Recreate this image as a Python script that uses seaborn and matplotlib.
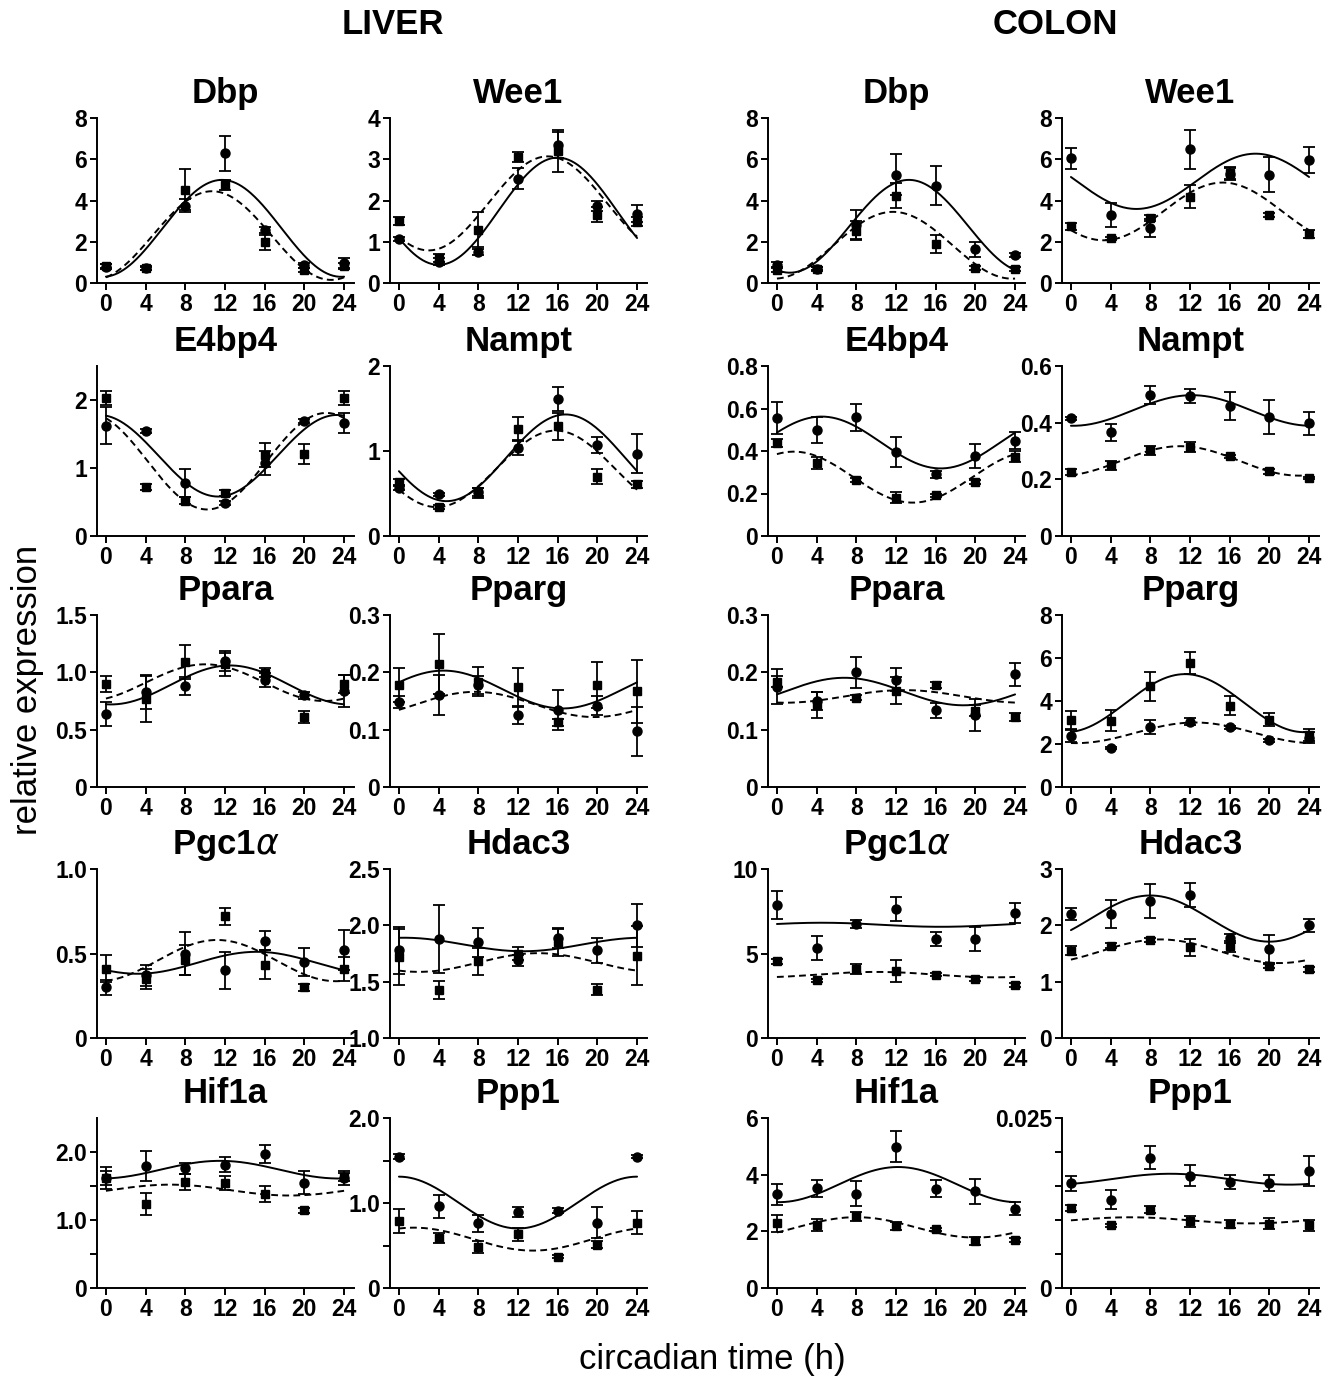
import numpy as np
import seaborn as sns
import matplotlib.pyplot as plt
from matplotlib import font_manager

# sampling times (h)
ct = [0, 4, 8, 12, 16, 20, 24]

# ---- LIVER ----
# Dbp
dbp_l_circ = [0.80, 0.72, 3.75, 6.30, 2.58, 0.85, 0.96]
dbp_l_circ_err = [0.10, 0.08, 0.30, 0.85, 0.15, 0.12, 0.25]
dbp_l_sq = [0.84, 0.74, 4.52, 4.75, 1.97, 0.65, 0.84]
dbp_l_sq_err = [0.10, 0.10, 1.00, 0.25, 0.35, 0.10, 0.15]
dbp_l_fit = [(2.65, 2.35, 11.7), (2.30, 2.15, 10.7)]  # (mesor, amplitude, peak) solid, dashed

# Wee1
wee1_l_circ = [1.06, 0.52, 0.75, 2.53, 3.34, 1.86, 1.68]
wee1_l_circ_err = [0.05, 0.08, 0.08, 0.25, 0.32, 0.12, 0.20]
wee1_l_sq = [1.50, 0.60, 1.29, 3.05, 3.20, 1.66, 1.49]
wee1_l_sq_err = [0.10, 0.10, 0.42, 0.12, 0.50, 0.18, 0.10]
wee1_l_fit = [(1.74, 1.30, 16.0), (1.93, 1.14, 15.0)]

# E4bp4
e4bp4_l_circ = [1.62, 1.55, 0.78, 0.49, 1.07, 1.69, 1.66]
e4bp4_l_circ_err = [0.27, 0.03, 0.20, 0.03, 0.18, 0.03, 0.15]
e4bp4_l_sq = [2.03, 0.72, 0.52, 0.63, 1.19, 1.21, 2.03]
e4bp4_l_sq_err = [0.10, 0.05, 0.05, 0.04, 0.18, 0.15, 0.10]
e4bp4_l_fit = [(1.18, 0.60, 23.3), (1.10, 0.71, 22.2)]

# Nampt
nampt_l_circ = [0.57, 0.49, 0.52, 1.04, 1.61, 1.07, 0.97]
nampt_l_circ_err = [0.03, 0.02, 0.05, 0.09, 0.14, 0.09, 0.23]
nampt_l_sq = [0.63, 0.34, 0.51, 1.26, 1.29, 0.70, 0.61]
nampt_l_sq_err = [0.04, 0.02, 0.06, 0.14, 0.16, 0.09, 0.04]
nampt_l_fit = [(0.92, 0.51, 16.8), (0.79, 0.45, 15.8)]

# Ppara
ppara_l_circ = [0.637, 0.83, 0.88, 1.10, 0.93, 0.80, 0.84]
ppara_l_circ_err = [0.105, 0.15, 0.08, 0.09, 0.06, 0.03, 0.14]
ppara_l_sq = [0.898, 0.77, 1.09, 1.07, 0.995, 0.61, 0.90]
ppara_l_sq_err = [0.07, 0.20, 0.15, 0.10, 0.04, 0.05, 0.08]
ppara_l_fit = [(0.89, 0.17, 12.5), (0.91, 0.16, 10.0)]

# Pparg
pparg_l_circ = [0.148, 0.161, 0.178, 0.126, 0.135, 0.142, 0.097]
pparg_l_circ_err = [0.010, 0.035, 0.015, 0.016, 0.035, 0.017, 0.043]
pparg_l_sq = [0.178, 0.215, 0.184, 0.174, 0.113, 0.178, 0.167]
pparg_l_sq_err = [0.030, 0.052, 0.025, 0.034, 0.006, 0.040, 0.055]
pparg_l_fit = [(0.170, 0.033, 4.5), (0.144, 0.022, 7.7)]

# Pgc1a
pgc1a_l_circ = [0.30, 0.37, 0.50, 0.40, 0.576, 0.45, 0.52]
pgc1a_l_circ_err = [0.045, 0.06, 0.13, 0.11, 0.055, 0.085, 0.12]
pgc1a_l_sq = [0.41, 0.35, 0.46, 0.72, 0.434, 0.30, 0.41]
pgc1a_l_sq_err = [0.08, 0.06, 0.09, 0.05, 0.085, 0.02, 0.07]
pgc1a_l_fit = [(0.445, 0.065, 15.2), (0.458, 0.122, 11.2)]

# Hdac3
hdac3_l_circ = [1.777, 1.88, 1.85, 1.69, 1.89, 1.78, 2.00]
hdac3_l_circ_err = [0.21, 0.30, 0.13, 0.05, 0.09, 0.11, 0.19]
hdac3_l_sq = [1.72, 1.43, 1.68, 1.75, 1.85, 1.43, 1.73]
hdac3_l_sq_err = [0.25, 0.08, 0.12, 0.06, 0.12, 0.05, 0.26]
hdac3_l_fit = [(1.83, 0.06, 0.5), (1.67, 0.083, 14.0)]

# Hif1a
hif1a_l_circ = [1.62, 1.79, 1.76, 1.81, 1.97, 1.55, 1.62]
hif1a_l_circ_err = [0.16, 0.22, 0.08, 0.11, 0.13, 0.17, 0.10]
hif1a_l_sq = [1.62, 1.24, 1.56, 1.54, 1.38, 1.14, 1.63]
hif1a_l_sq_err = [0.10, 0.16, 0.12, 0.10, 0.12, 0.03, 0.06]
hif1a_l_fit = [(1.74, 0.13, 11.5), (1.44, 0.08, 6.5)]

# Ppp1
ppp1_l_circ = [1.545, 0.96, 0.76, 0.89, 0.91, 0.77, 1.545]
ppp1_l_circ_err = [0.03, 0.14, 0.10, 0.06, 0.03, 0.18, 0.02]
ppp1_l_sq = [0.786, 0.59, 0.48, 0.63, 0.37, 0.51, 0.77]
ppp1_l_sq_err = [0.14, 0.06, 0.07, 0.08, 0.02, 0.04, 0.14]
ppp1_l_fit = [(1.005, 0.305, 0.0), (0.575, 0.135, 1.5)]

# ---- COLON ----
dbp_c_circ = [0.88, 0.70, 2.82, 5.25, 4.72, 1.63, 1.35]
dbp_c_circ_err = [0.12, 0.08, 0.70, 1.00, 0.95, 0.35, 0.10]
dbp_c_sq = [0.65, 0.68, 2.54, 4.24, 1.89, 0.73, 0.68]
dbp_c_sq_err = [0.10, 0.10, 0.45, 0.60, 0.45, 0.10, 0.08]
dbp_c_fit = [(2.75, 2.25, 13.3), (1.83, 1.62, 11.7)]

wee1_c_circ = [6.04, 3.31, 2.66, 6.49, 5.30, 5.25, 5.96]
wee1_c_circ_err = [0.50, 0.58, 0.45, 0.95, 0.30, 0.85, 0.62]
wee1_c_sq = [2.74, 2.17, 3.16, 4.18, 5.32, 3.31, 2.38]
wee1_c_sq_err = [0.15, 0.08, 0.15, 0.55, 0.30, 0.10, 0.20]
wee1_c_fit = [(4.93, 1.34, 18.6), (3.47, 1.40, 15.3)]

e4bp4_c_circ = [0.555, 0.50, 0.558, 0.395, 0.29, 0.376, 0.449]
e4bp4_c_circ_err = [0.075, 0.06, 0.065, 0.07, 0.015, 0.055, 0.04]
e4bp4_c_sq = [0.438, 0.343, 0.265, 0.181, 0.192, 0.254, 0.374]
e4bp4_c_sq_err = [0.02, 0.03, 0.01, 0.025, 0.008, 0.008, 0.025]
e4bp4_c_fit = [(0.44, 0.122, 4.5), (0.277, 0.12, 1.7)]

nampt_c_circ = [0.415, 0.366, 0.498, 0.495, 0.46, 0.419, 0.398]
nampt_c_circ_err = [0.005, 0.03, 0.033, 0.025, 0.05, 0.06, 0.04]
nampt_c_sq = [0.226, 0.249, 0.302, 0.313, 0.281, 0.228, 0.205]
nampt_c_sq_err = [0.01, 0.015, 0.015, 0.018, 0.005, 0.01, 0.005]
nampt_c_fit = [(0.443, 0.054, 12.2), (0.265, 0.052, 11.0)]

ppara_c_circ = [0.175, 0.150, 0.200, 0.187, 0.134, 0.125, 0.197]
ppara_c_circ_err = [0.030, 0.015, 0.027, 0.020, 0.013, 0.028, 0.020]
ppara_c_sq = [0.184, 0.143, 0.156, 0.168, 0.178, 0.133, 0.122]
ppara_c_sq_err = [0.010, 0.022, 0.005, 0.023, 0.006, 0.010, 0.007]
ppara_c_fit = [(0.1665, 0.024, 6.8), (0.158, 0.011, 12.8)]

pparg_c_circ = [2.37, 1.83, 2.78, 3.04, 2.78, 2.18, 2.30]
pparg_c_circ_err = [0.30, 0.05, 0.32, 0.15, 0.07, 0.07, 0.25]
pparg_c_sq = [3.12, 3.09, 4.68, 5.77, 3.78, 3.12, 2.42]
pparg_c_sq_err = [0.40, 0.50, 0.67, 0.50, 0.45, 0.30, 0.30]
pparg_c_fit = [(3.90, 1.35, 11.5), (2.52, 0.48, 12.5)]

pgc1a_c_circ = [7.87, 5.31, 6.74, 7.62, 5.86, 5.86, 7.38]
pgc1a_c_circ_err = [0.80, 0.70, 0.25, 0.70, 0.40, 0.70, 0.60]
pgc1a_c_sq = [4.53, 3.42, 4.10, 3.95, 3.75, 3.48, 3.13]
pgc1a_c_sq_err = [0.15, 0.10, 0.30, 0.65, 0.10, 0.10, 0.10]
pgc1a_c_fit = [(6.70, 0.12, 4.5), (3.75, 0.16, 10.0)]

hdac3_c_circ = [2.20, 2.20, 2.43, 2.54, 1.77, 1.58, 2.00]
hdac3_c_circ_err = [0.10, 0.25, 0.30, 0.22, 0.08, 0.25, 0.12]
hdac3_c_sq = [1.55, 1.64, 1.74, 1.61, 1.63, 1.28, 1.22]
hdac3_c_sq_err = [0.08, 0.05, 0.03, 0.15, 0.10, 0.04, 0.04]
hdac3_c_fit = [(2.12, 0.41, 8.0), (1.54, 0.21, 9.0)]

hif1a_c_circ = [3.31, 3.52, 3.33, 4.98, 3.50, 3.41, 2.80]
hif1a_c_circ_err = [0.37, 0.30, 0.45, 0.55, 0.30, 0.45, 0.22]
hif1a_c_sq = [2.28, 2.22, 2.53, 2.18, 2.07, 1.66, 1.69]
hif1a_c_sq_err = [0.30, 0.20, 0.15, 0.15, 0.05, 0.15, 0.07]
hif1a_c_fit = [(3.65, 0.62, 12.2), (2.14, 0.36, 8.0)]

ppp1_c_circ = [0.01542, 0.01299, 0.01916, 0.01654, 0.01556, 0.01542, 0.01727]
ppp1_c_circ_err = [0.0011, 0.0014, 0.0017, 0.0016, 0.0010, 0.0012, 0.0022]
ppp1_c_sq = [0.01177, 0.00924, 0.01153, 0.00983, 0.00944, 0.00944, 0.00924]
ppp1_c_sq_err = [0.0005, 0.0002, 0.0005, 0.0008, 0.0006, 0.0008, 0.0008]
ppp1_c_fit = [(0.0160, 0.0008, 10.0), (0.00995, 0.00045, 6.0)]

# y axes: (limits, ticks, labels)
ax_0_8 = ((0, 8), [0, 2, 4, 6, 8], ['0', '2', '4', '6', '8'])

panels = [
    # row, col, title, y axis, circles, circle err, squares, square err, fits
    (0, 0, 'Dbp', ax_0_8, dbp_l_circ, dbp_l_circ_err, dbp_l_sq, dbp_l_sq_err, dbp_l_fit),
    (0, 1, 'Wee1', ((0, 4), [0, 1, 2, 3, 4], ['0', '1', '2', '3', '4']),
     wee1_l_circ, wee1_l_circ_err, wee1_l_sq, wee1_l_sq_err, wee1_l_fit),
    (0, 2, 'Dbp', ax_0_8, dbp_c_circ, dbp_c_circ_err, dbp_c_sq, dbp_c_sq_err, dbp_c_fit),
    (0, 3, 'Wee1', ax_0_8, wee1_c_circ, wee1_c_circ_err, wee1_c_sq, wee1_c_sq_err, wee1_c_fit),
    (1, 0, 'E4bp4', ((0, 2.5), [0, 1, 2], ['0', '1', '2']),
     e4bp4_l_circ, e4bp4_l_circ_err, e4bp4_l_sq, e4bp4_l_sq_err, e4bp4_l_fit),
    (1, 1, 'Nampt', ((0, 2), [0, 1, 2], ['0', '1', '2']),
     nampt_l_circ, nampt_l_circ_err, nampt_l_sq, nampt_l_sq_err, nampt_l_fit),
    (1, 2, 'E4bp4', ((0, 0.8), [0, 0.2, 0.4, 0.6, 0.8], ['0', '0.2', '0.4', '0.6', '0.8']),
     e4bp4_c_circ, e4bp4_c_circ_err, e4bp4_c_sq, e4bp4_c_sq_err, e4bp4_c_fit),
    (1, 3, 'Nampt', ((0, 0.6), [0, 0.2, 0.4, 0.6], ['0', '0.2', '0.4', '0.6']),
     nampt_c_circ, nampt_c_circ_err, nampt_c_sq, nampt_c_sq_err, nampt_c_fit),
    (2, 0, 'Ppara', ((0, 1.5), [0, 0.5, 1.0, 1.5], ['0', '0.5', '1.0', '1.5']),
     ppara_l_circ, ppara_l_circ_err, ppara_l_sq, ppara_l_sq_err, ppara_l_fit),
    (2, 1, 'Pparg', ((0, 0.3), [0, 0.1, 0.2, 0.3], ['0', '0.1', '0.2', '0.3']),
     pparg_l_circ, pparg_l_circ_err, pparg_l_sq, pparg_l_sq_err, pparg_l_fit),
    (2, 2, 'Ppara', ((0, 0.3), [0, 0.1, 0.2, 0.3], ['0', '0.1', '0.2', '0.3']),
     ppara_c_circ, ppara_c_circ_err, ppara_c_sq, ppara_c_sq_err, ppara_c_fit),
    (2, 3, 'Pparg', ax_0_8, pparg_c_circ, pparg_c_circ_err, pparg_c_sq, pparg_c_sq_err, pparg_c_fit),
    (3, 0, r'Pgc1$\alpha$', ((0, 1.0), [0, 0.5, 1.0], ['0', '0.5', '1.0']),
     pgc1a_l_circ, pgc1a_l_circ_err, pgc1a_l_sq, pgc1a_l_sq_err, pgc1a_l_fit),
    (3, 1, 'Hdac3', ((1.0, 2.5), [1.0, 1.5, 2.0, 2.5], ['1.0', '1.5', '2.0', '2.5']),
     hdac3_l_circ, hdac3_l_circ_err, hdac3_l_sq, hdac3_l_sq_err, hdac3_l_fit),
    (3, 2, r'Pgc1$\alpha$', ((0, 10), [0, 5, 10], ['0', '5', '10']),
     pgc1a_c_circ, pgc1a_c_circ_err, pgc1a_c_sq, pgc1a_c_sq_err, pgc1a_c_fit),
    (3, 3, 'Hdac3', ((0, 3), [0, 1, 2, 3], ['0', '1', '2', '3']),
     hdac3_c_circ, hdac3_c_circ_err, hdac3_c_sq, hdac3_c_sq_err, hdac3_c_fit),
    (4, 0, 'Hif1a', ((0, 2.5), [0, 0.5, 1.0, 1.5, 2.0], ['0', '', '1.0', '', '2.0']),
     hif1a_l_circ, hif1a_l_circ_err, hif1a_l_sq, hif1a_l_sq_err, hif1a_l_fit),
    (4, 1, 'Ppp1', ((0, 2.0), [0, 0.5, 1.0, 1.5, 2.0], ['0', '', '1.0', '', '2.0']),
     ppp1_l_circ, ppp1_l_circ_err, ppp1_l_sq, ppp1_l_sq_err, ppp1_l_fit),
    (4, 2, 'Hif1a', ((0, 6), [0, 2, 4, 6], ['0', '2', '4', '6']),
     hif1a_c_circ, hif1a_c_circ_err, hif1a_c_sq, hif1a_c_sq_err, hif1a_c_fit),
    (4, 3, 'Ppp1', ((0, 0.025), [0, 0.005, 0.01, 0.015, 0.02, 0.025], ['0', '', '', '', '', '0.025']),
     ppp1_c_circ, ppp1_c_circ_err, ppp1_c_sq, ppp1_c_sq_err, ppp1_c_fit),
]

sns.set_style('ticks')
plt.rcParams['font.family'] = ['Liberation Sans', 'DejaVu Sans']
plt.rcParams['mathtext.fontset'] = 'dejavusans'
plt.rcParams['text.color'] = 'black'
plt.rcParams['xtick.color'] = 'black'
plt.rcParams['ytick.color'] = 'black'
plt.rcParams['axes.edgecolor'] = 'black'

installed = {f.name for f in font_manager.fontManager.ttflist}
if 'Liberation Sans Narrow' in installed:
    tick_font, tick_size = ['Liberation Sans Narrow', 'DejaVu Sans'], 19
else:
    tick_font, tick_size = ['Liberation Sans', 'DejaVu Sans'], 16.5

W, H = 1335, 1379
fig = plt.figure(figsize=(W / 100, H / 100), dpi=100)

col_left = [97, 390, 768, 1062]
row_top = [118, 366, 615, 869, 1118]
row_bot = [283, 536, 787, 1038, 1288]
ax_w = 257

t_fine = np.linspace(0, 24, 241)

for row, col, title, yax, circ, circ_err, sq, sq_err, fits in panels:
    top, bot = row_top[row], row_bot[row]
    ax = fig.add_axes([col_left[col] / W, 1 - bot / H, ax_w / W, (bot - top) / H])

    for (mesor, amp, peak), ls in zip(fits, ['-', (0, (3.5, 2.2))]):
        fit_y = mesor + amp * np.cos(2 * np.pi * (t_fine - peak) / 24)
        sns.lineplot(x=t_fine, y=fit_y, ax=ax, color='black', lw=1.4,
                     linestyle=ls, zorder=2)

    ax.errorbar(ct, circ, yerr=circ_err, fmt='o', color='black', ms=6.5,
                capsize=4, elinewidth=1.3, capthick=1.3, zorder=3)
    ax.errorbar(ct, sq, yerr=sq_err, fmt='s', color='black', ms=6,
                capsize=4, elinewidth=1.3, capthick=1.3, zorder=3)

    ylim, yticks, ylabels = yax
    ax.set_xlim(-0.9, 25)
    ax.set_ylim(*ylim)
    ax.set_xticks(ct, [str(v) for v in ct], fontweight='bold',
                  family=tick_font, fontsize=tick_size)
    ax.set_yticks(yticks, ylabels, fontweight='bold',
                  family=tick_font, fontsize=tick_size)
    ax.tick_params(direction='out', length=5, width=1.4, pad=2, color='black')
    for s in ['left', 'bottom']:
        ax.spines[s].set_linewidth(1.4)
        ax.spines[s].set_color('black')
    sns.despine(ax=ax)
    ax.set_xlabel('')
    ax.set_ylabel('')
    ax.set_title(title, fontsize=25, fontweight='bold', pad=11)

fig.text(393 / W, 1 - 25 / H, 'LIVER', ha='center', va='center',
         fontsize=25, fontweight='bold')
fig.text(1055 / W, 1 - 25 / H, 'COLON', ha='center', va='center',
         fontsize=25, fontweight='bold')
fig.text(28 / W, 1 - 690 / H, 'relative expression', ha='center', va='center',
         rotation=90, fontsize=25)
fig.text(712 / W, 1 - 1360 / H, 'circadian time (h)', ha='center', va='center',
         fontsize=25)

fig.savefig('out.png', dpi=100)
